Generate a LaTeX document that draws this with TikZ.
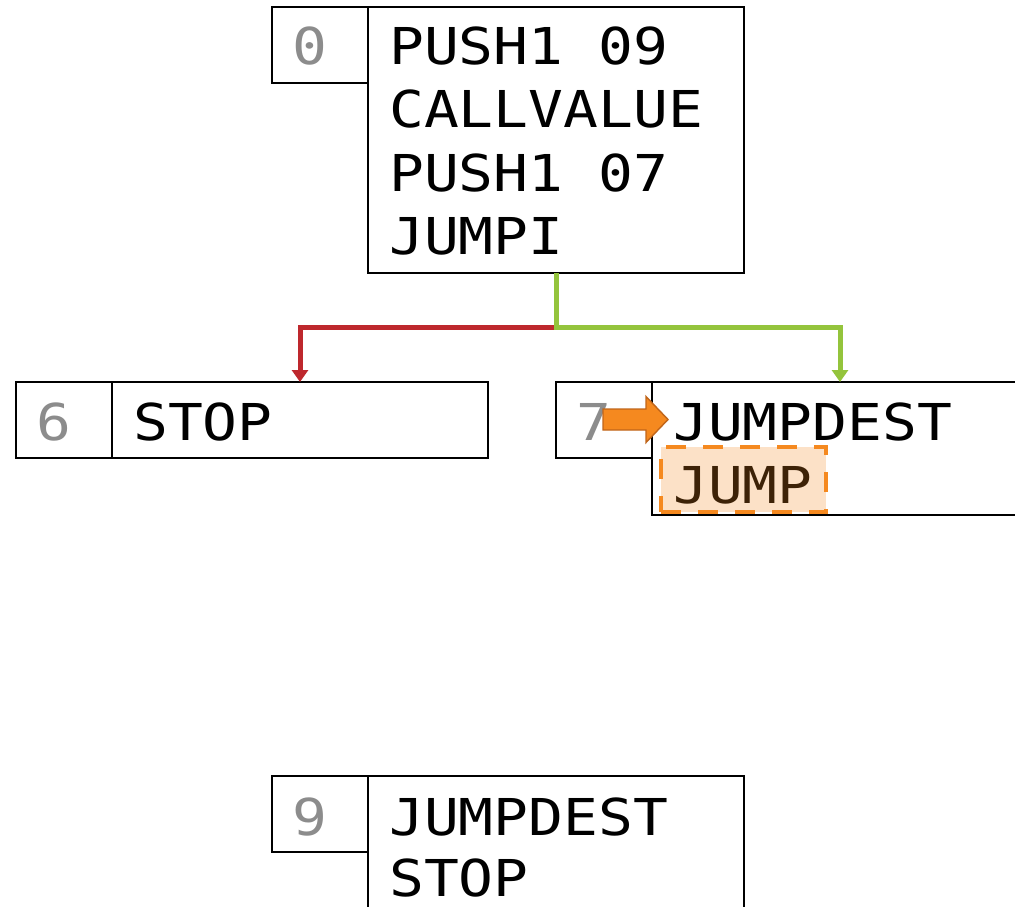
\documentclass[tikz,border=0pt]{standalone}
\usepackage{fontspec}
\usetikzlibrary{arrows.meta}
\newfontfamily\codefont[FakeStretch=1.14]{DejaVu Sans Mono}
\definecolor{numgray}{RGB}{140,140,140}
\definecolor{takegreen}{RGB}{148,196,60}
\definecolor{skipred}{RGB}{190,40,45}
\definecolor{pcorange}{RGB}{245,137,31}
\definecolor{pcedge}{RGB}{192,101,26}
\begin{document}
\begin{tikzpicture}[x=1pt,y=-1pt,
  numbox/.style={draw=black,line width=1.8pt,minimum width=96pt,minimum height=76pt,
    anchor=north west,inner sep=0pt,outer sep=0pt},
  codebox/.style={draw=black,line width=1.8pt,minimum width=376pt,minimum height=#1,
    anchor=north west,inner sep=0pt,outer sep=0pt},
  code/.style={font=\codefont\fontsize{50.8pt}{63.5pt}\selectfont,anchor=base west,
    inner sep=0pt,text depth=0pt,text=black},
  num/.style={code,text=numgray},
  flow/.style={line width=5pt,-{Triangle[width=16pt,length=12pt]}},
  hilite/.style={draw=pcorange,line width=3.8pt,dash pattern=on 20pt off 17pt,
    fill=pcorange,fill opacity=0.25,draw opacity=1,anchor=north west,
    minimum width=165pt,minimum height=65pt,inner sep=0pt,outer sep=0pt}]
\useasboundingbox (0,0) rectangle (1015,906);
\clip (0,0) rectangle (1015,906);

% block 0
\node[numbox] (n0) at (272,7) {};
\node[codebox=266pt] (c0) at (368,7) {};
\node[num] (n0t) at (292,64) {0};
\node[code] (c0a) at (389,64) {PUSH1 09};
\node[code] (c0b) at (389,127.5) {CALLVALUE};
\node[code] (c0c) at (389,191) {PUSH1 07};
\node[code] (c0d) at (389,254.5) {JUMPI};

% block 6
\node[numbox] (n6) at (16,382) {};
\node[codebox=76pt] (c6) at (112,382) {};
\node[num] (n6t) at (36,440) {6};
\node[code] (c6a) at (133,440) {STOP};

% block 7
\node[numbox] (n7) at (556,382) {};
\node[codebox=133pt] (c7) at (652,382) {};
\node[num] (n7t) at (576,440) {7};
\node[code] (c7a) at (673,440) {JUMPDEST};
\node[code] (c7b) at (673,503) {JUMP};

% block 9
\node[numbox] (n9) at (272,776) {};
\node[codebox=140pt] (c9) at (368,776) {};
\node[num] (n9t) at (292,835) {9};
\node[code] (c9a) at (389,835) {JUMPDEST};
\node[code] (c9b) at (389,896) {STOP};

% branches of JUMPI
\coordinate (fork) at ([yshift=-54pt]c0.south);
\draw[flow,skipred] (fork) -| (c6.north);
\draw[flow,takegreen] (c0.south) -- (fork) -| (c7.north);

% current instruction
\node[hilite] (hl) at (661,447) {};
\coordinate (pc) at (603,419.5);
\filldraw[fill=pcorange,draw=pcedge,line width=1.4pt,line join=miter]
  (pc) ++(0,-10.5) -- ++(43,0) -- ++(0,-12.5) -- ++(22,23) -- ++(-22,23)
  -- ++(0,-12.5) -- ++(-43,0) -- cycle;
\end{tikzpicture}
\end{document}
